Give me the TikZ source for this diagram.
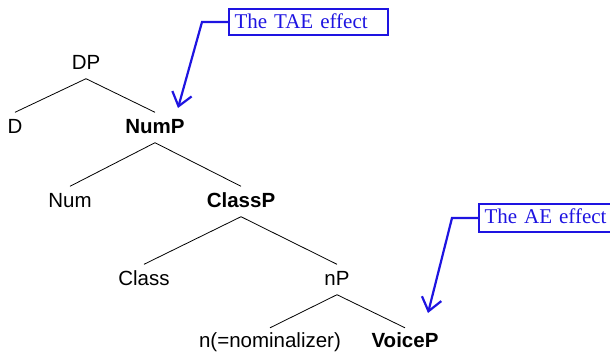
\documentclass[tikz,border=0pt]{standalone}
\usepackage{fontspec}
\setmainfont{Liberation Serif}
\setsansfont{Liberation Sans}
\usetikzlibrary{arrows.meta}
\definecolor{callblue}{RGB}{30,20,225}
\begin{document}
\begin{tikzpicture}[x=1pt,y=-1pt,
  tn/.style={font=\sffamily\fontsize{20.5}{24}\selectfont, text height=15pt, text depth=4pt, inner xsep=0pt, inner ysep=5.5pt},
  hd/.style={tn, font=\sffamily\bfseries\fontsize{20.5}{24}\selectfont},
  branch/.style={line width=0.8pt, black},
  callbox/.style={draw=callblue, line width=2pt, text=callblue, font=\rmfamily\fontsize{21}{24}\selectfont, text width=148pt, align=left, inner xsep=5.5pt, inner ysep=3pt, text height=16pt, anchor=north west},
  callarrow/.style={draw=callblue, line width=2.2pt, -{Straight Barb[length=13pt,width=20pt]}}]
\useasboundingbox (0,0) rectangle (610,351);
% tree nodes
\node[tn] (DP) at (86,63.5) {DP};
\node[tn] (D) at (15,127.5) {D};
\node[hd] (NumP) at (155,127.5) {NumP};
\node[tn] (Num) at (70,201.5) {Num};
\node[hd] (ClassP) at (241,201.5) {ClassP};
\node[tn] (Class) at (144,279.5) {Class};
\node[tn] (nP) at (337,279.5) {nP};
\node[tn, inner ysep=4pt] (n) at (270,341.5) {n(=nominalizer)};
\node[hd, inner ysep=4pt] (VoiceP) at (405,341.5) {VoiceP};
% branches
\draw[branch] (DP.south) -- (D.north);
\draw[branch] (DP.south) -- (NumP.north);
\draw[branch] (NumP.south) -- (Num.north);
\draw[branch] (NumP.south) -- (ClassP.north);
\draw[branch] (ClassP.south) -- (Class.north);
\draw[branch] (ClassP.south) -- (nP.north);
\draw[branch] (nP.south) -- (n.north);
\draw[branch] (nP.south) -- (VoiceP.north);
% callouts
\node[callbox, text depth=4pt] (tae) at (228,8) {The TAE effect};
\node[callbox, text depth=6pt] (ae) at (478,203) {The AE effect};
\coordinate (taetip) at (178,108);
\coordinate (aetip) at (428,313);
\draw[callarrow] (tae.west) -- ++(-26,0) -- (taetip);
\draw[callarrow] (ae.west) -- ++(-26,0) -- (aetip);
\end{tikzpicture}
\end{document}
